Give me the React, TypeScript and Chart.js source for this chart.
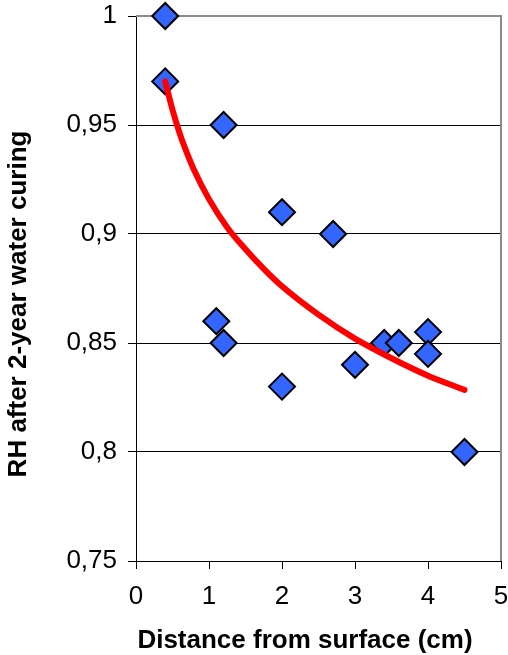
import { useEffect, useRef } from 'react';
import { Chart, registerables } from 'chart.js';

Chart.register(...registerables);

// Measured points: depth below the surface and relative humidity
const distanceCm = [0.4, 0.4, 1.2, 2.0, 2.7, 1.1, 1.2, 2.0, 3.0, 3.4, 3.6, 4.0, 4.0, 4.5];
const relativeHumidity = [1.0, 0.97, 0.95, 0.91, 0.9, 0.86, 0.85, 0.83, 0.84, 0.85, 0.85, 0.855, 0.845, 0.8];

// Logarithmic trend line, sampled along the depth range
const trendX = [0.4, 0.5, 0.6, 0.7, 0.8, 1.0, 1.25, 1.5, 1.75, 2.0, 2.5, 3.0, 3.5, 4.0, 4.5];
const trendY = [0.97, 0.957, 0.946, 0.937, 0.929, 0.916, 0.903, 0.893, 0.884, 0.876, 0.863, 0.852, 0.843, 0.835, 0.8285];

const yTickValues = [0.75, 0.8, 0.85, 0.9, 0.95, 1];
const yTickLabels = ['0,75', '0,8', '0,85', '0,9', '0,95', '1'];
const xTickValues = [0, 1, 2, 3, 4, 5];
const xTickLabels = ['0', '1', '2', '3', '4', '5'];

const xTitle = 'Distance from surface (cm)';
const yTitle = 'RH after 2-year water curing';

const FONT = '"Liberation Sans", Arial, Helvetica, sans-serif';

const frameAndTitles = {
  id: 'frameAndTitles',
  beforeDatasetsDraw(chart: any) {
    const { ctx, chartArea } = chart;
    ctx.save();
    ctx.strokeStyle = '#8c8c8c';
    ctx.lineWidth = 2;
    ctx.beginPath();
    ctx.moveTo(chartArea.left, chartArea.top);
    ctx.lineTo(chartArea.right, chartArea.top);
    ctx.lineTo(chartArea.right, chartArea.bottom);
    ctx.stroke();
    ctx.restore();
  },
  afterDraw(chart: any) {
    const { ctx } = chart;
    ctx.save();
    ctx.fillStyle = '#000';
    ctx.font = `bold 26px ${FONT}`;
    ctx.textAlign = 'center';
    ctx.textBaseline = 'alphabetic';
    ctx.fillText(xTitle, 305, 648);
    ctx.translate(26, 304);
    ctx.rotate(-Math.PI / 2);
    ctx.fillText(yTitle, 0, 0);
    ctx.restore();
  },
};

export default function App() {
  const canvasRef = useRef<HTMLCanvasElement | null>(null);

  useEffect(() => {
    if (!canvasRef.current) return;
    const chart = new Chart(canvasRef.current, {
      type: 'scatter',
      data: {
        datasets: [
          {
            label: 'trend',
            data: trendX.map((x, i) => ({ x, y: trendY[i] })),
            showLine: true,
            borderColor: '#ff0000',
            borderWidth: 6,
            borderCapStyle: 'round',
            borderJoinStyle: 'round',
            cubicInterpolationMode: 'monotone',
            pointRadius: 0,
            pointHoverRadius: 0,
            order: 0,
            clip: false,
          } as any,
          {
            label: 'RH',
            data: distanceCm.map((x, i) => ({ x, y: relativeHumidity[i] })),
            pointStyle: 'rectRot',
            pointRadius: 13,
            pointHoverRadius: 13,
            backgroundColor: '#3366ff',
            borderColor: '#000',
            borderWidth: 2,
            order: 1,
            clip: false,
          } as any,
        ],
      },
      options: {
        responsive: false,
        animation: false,
        devicePixelRatio: 1,
        layout: { autoPadding: false, padding: { top: 16, right: 7, left: 0, bottom: 0 } },
        plugins: {
          legend: { display: false },
          tooltip: { enabled: false },
        },
        scales: {
          x: {
            type: 'linear',
            min: 0,
            max: 5,
            afterBuildTicks: (scale: any) => {
              scale.ticks = xTickValues.map((v) => ({ value: v }));
            },
            afterFit: (scale: any) => {
              scale.height = 94;
              scale.paddingLeft = 0;
              scale.paddingRight = 0;
            },
            ticks: {
              padding: 12,
              color: '#000',
              font: { family: FONT, size: 26 },
              maxRotation: 0,
              callback: (value: any) => xTickLabels[xTickValues.indexOf(Number(value))],
            },
            grid: {
              drawOnChartArea: false,
              drawTicks: true,
              tickLength: 8,
              color: '#000',
            },
            border: { color: '#000', width: 1 },
          },
          y: {
            type: 'linear',
            min: 0.75,
            max: 1,
            afterBuildTicks: (scale: any) => {
              scale.ticks = yTickValues.map((v) => ({ value: v }));
            },
            afterFit: (scale: any) => {
              scale.width = 136;
              scale.paddingTop = 0;
              scale.paddingBottom = 0;
            },
            ticks: {
              padding: 11,
              color: '#000',
              font: { family: FONT, size: 26 },
              callback: (value: any) =>
                yTickLabels[yTickValues.findIndex((v) => Math.abs(v - Number(value)) < 1e-9)],
            },
            grid: {
              drawTicks: true,
              tickLength: 8,
              color: '#000',
              lineWidth: 1,
            },
            border: { color: '#000', width: 1 },
          },
        },
      },
      plugins: [frameAndTitles],
    });
    return () => chart.destroy();
  }, []);

  return (
    <div style={{ position: 'fixed', left: 0, top: 0, width: 508, height: 655, background: '#fff' }}>
      <canvas ref={canvasRef} width={508} height={655} />
    </div>
  );
}
